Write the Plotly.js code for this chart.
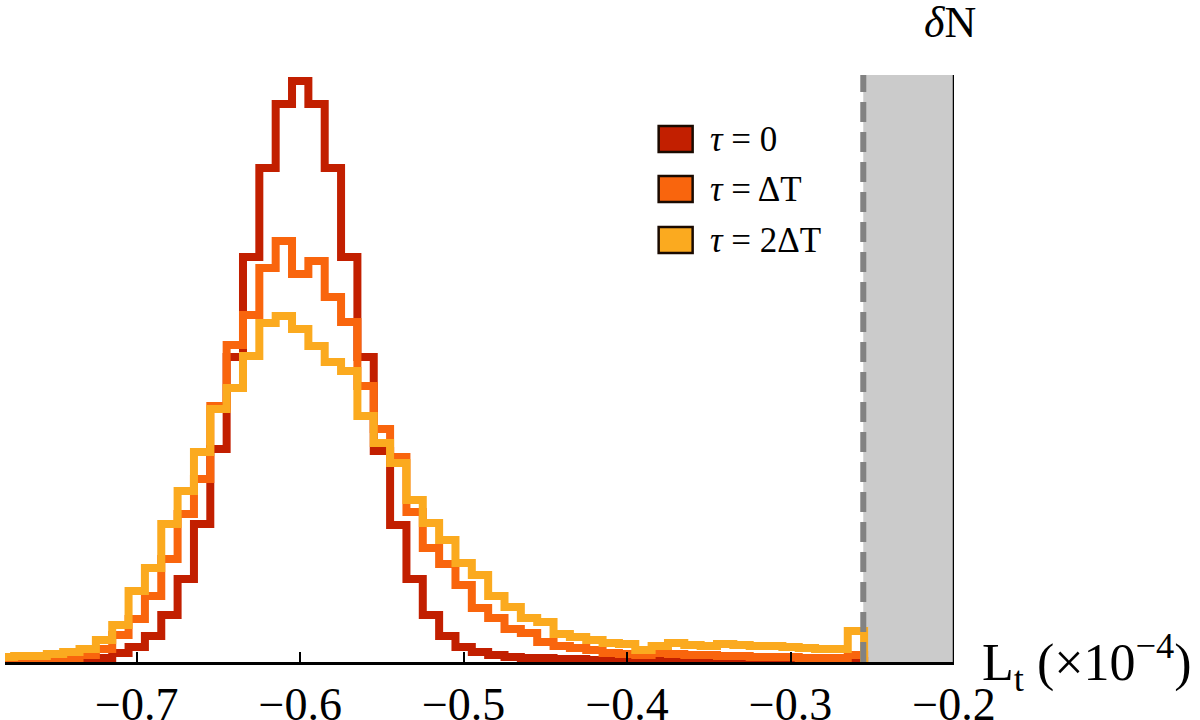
<!DOCTYPE html>
<html>
<head>
<meta charset="utf-8">
<script src="https://cdn.plot.ly/plotly-3.0.1.min.js"></script>
<style>
html,body{margin:0;padding:0;background:#fff;}
#chart{width:1200px;height:720px;}
.scatterlayer .js-line{stroke-linejoin:miter !important;stroke-linecap:butt !important;}
</style>
</head>
<body>
<div id="chart"></div>
<script>
// Bin centres (L_t, x10^-4), bin width 0.01
const binCenters = [-0.78,-0.77,-0.76,-0.75,-0.74,-0.73,-0.72,-0.71,-0.70,-0.69,
  -0.68,-0.67,-0.66,-0.65,-0.64,-0.63,-0.62,-0.61,-0.60,-0.59,
  -0.58,-0.57,-0.56,-0.55,-0.54,-0.53,-0.52,-0.51,-0.50,-0.49,
  -0.48,-0.47,-0.46,-0.45,-0.44,-0.43,-0.42,-0.41,-0.40,-0.39,
  -0.38,-0.37,-0.36,-0.35,-0.34,-0.33,-0.32,-0.31,-0.30,-0.29,
  -0.28,-0.27,-0.26];
const binWidth = 0.01;

const tau0 = [0,0,0.5,1,1,2,4,9,15,26,
  47,83,138,213,305,405,494,558,581,558,
  494,405,305,211,137,83,47,26,15,10,
  7,5,4,4,3,3,2,2,2,1,
  1,1,1,1,1,1,1,1,1,1,
  1,1,1];
const tau1 = [2,2,3,3,4,7,13,27,43,66,
  103,148,183,256,317,347,394,421,388,401,
  365,340,276,233,205,150,114,98,77,54,
  44,33,29,20,16,14,12,9,8,7,
  9,8,7,7,6,6,5,5,5,4,
  4,4,7];
const tau2 = [5,6,6,8,10,13,22,37,71,94,
  138,171,210,253,274,306,339,346,333,316,
  300,291,246,219,199,162,139,122,99,87,
  66,55,44,40,28,25,22,19,18,12,
  16,19,17,16,18,17,16,16,15,14,
  13,13,31];

const seriesNames = ["<i>τ</i> = 0", "<i>τ</i> = ΔT", "<i>τ</i> = 2ΔT"];
const seriesColors = ["#c21f00", "#f9650d", "#fbaa1f"];
const tickVals = [-0.7,-0.6,-0.5,-0.4,-0.3,-0.2];
const tickText = ["−0.7","−0.6","−0.5","−0.4","−0.3","−0.2"];
const deltaNLimit = -0.2555;
const xMin = -0.7806, xMax = -0.2;
const yMax = 587;

function stairs(vals){
  const xs = [], ys = [];
  binCenters.forEach((c,i)=>{ xs.push(c - binWidth/2); ys.push(vals[i]); });
  const lastEdge = binCenters[binCenters.length-1] + binWidth/2;
  xs.push(lastEdge); ys.push(0);
  return {xs, ys};
}

const serif = "Liberation Serif, DejaVu Serif, serif";
const data = [tau0, tau1, tau2].map((v,i)=>{
  const s = stairs(v);
  return {x:s.xs, y:s.ys, type:'scatter', mode:'lines',
    line:{shape:'hv', color:seriesColors[i], width:8},
    name:seriesNames[i], showlegend:false, hoverinfo:'skip'};
});

// pixel helpers for layout placement
const L = 5, R = 245.5, T = 75, B = 58, W = 1200, H = 720;
const pw = W - L - R, ph = H - T - B;
const px = x => (x - L) / pw;
const py = y => (H - B - y) / ph;

const shapes = [
  {type:'rect', xref:'x', yref:'paper', x0:deltaNLimit, x1:xMax, y0:0, y1:1,
   fillcolor:'#cbcbcb', line:{width:0}, layer:'below'},
  {type:'line', xref:'x', yref:'paper', x0:xMax, x1:xMax, y0:0, y1:1,
   line:{color:'#000', width:2.5}, layer:'above'},
  {type:'line', xref:'x', yref:'paper', x0:deltaNLimit, x1:deltaNLimit, y0:0, y1:1,
   line:{color:'#828282', width:6, dash:'20px,10px'}, layer:'above'}
];
const annotations = [];
const legendY = [139, 189, 240];
seriesNames.forEach((n,i)=>{
  shapes.push({type:'rect', xref:'paper', yref:'paper',
    x0:px(659), x1:px(693), y0:py(legendY[i]+13), y1:py(legendY[i]-13),
    fillcolor:seriesColors[i], line:{color:'#1a0a00', width:2.5}});
  annotations.push({xref:'paper', yref:'paper', x:px(708), y:py(legendY[i]),
    xanchor:'left', yanchor:'middle', showarrow:false, text:n,
    font:{family:serif, size:35, color:'#000'}});
});
annotations.push({xref:'paper', yref:'paper', x:px(950), y:py(22),
  xanchor:'center', yanchor:'middle', showarrow:false, text:'<i>δ</i>N',
  font:{family:serif, size:44, color:'#000'}});
annotations.push({xref:'paper', yref:'paper', x:px(981), y:py(662),
  xanchor:'left', yanchor:'middle', showarrow:false,
  text:'L<sub>t</sub> (×10<sup>−4</sup>)',
  font:{family:serif, size:52, color:'#000'}});

const layout = {
  width:W, height:H,
  margin:{l:L, r:R, t:T, b:B, pad:0},
  paper_bgcolor:'#fff', plot_bgcolor:'#fff',
  showlegend:false,
  xaxis:{range:[xMin,xMax], showgrid:false, zeroline:false,
    showline:true, linecolor:'#000', linewidth:2.5,
    ticks:'inside', ticklen:10, tickwidth:2, tickcolor:'#000',
    tickvals:tickVals, ticktext:tickText,
    tickfont:{family:serif, size:46, color:'#000'}},
  yaxis:{range:[0,yMax], visible:false, showgrid:false, zeroline:false, fixedrange:true},
  shapes:shapes, annotations:annotations
};
Plotly.newPlot('chart', data, layout, {staticPlot:true, displayModeBar:false});
</script>
</body>
</html>
